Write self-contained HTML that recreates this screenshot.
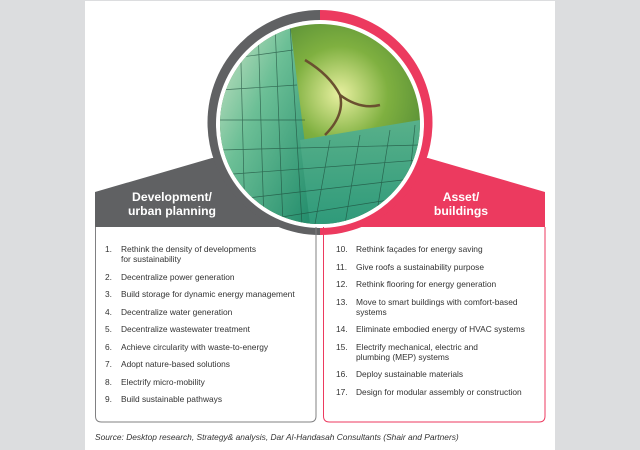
<!DOCTYPE html>
<html><head><style>
body{margin:0;width:640px;height:450px;background:#dcdddf;overflow:hidden;font-family:"Liberation Sans",sans-serif}
</style></head><body>
<svg width="640" height="450" viewBox="0 0 640 450" xmlns="http://www.w3.org/2000/svg" style="position:absolute;left:0;top:0">
<defs>
<clipPath id="cl"><circle cx="320" cy="124" r="100"/></clipPath>
<clipPath id="lh"><rect x="0" y="0" width="320" height="450"/></clipPath>
<clipPath id="rh"><rect x="320" y="0" width="320" height="450"/></clipPath>
<linearGradient id="g1" x1="0" y1="0" x2="1" y2="1">
<stop offset="0" stop-color="#cfe6c8"/><stop offset="0.4" stop-color="#6cbf96"/><stop offset="1" stop-color="#1f8a6a"/></linearGradient>
<radialGradient id="g2" cx="0.6" cy="0.35" r="0.6">
<stop offset="0" stop-color="#e8f0a0"/><stop offset="0.4" stop-color="#7fb040"/><stop offset="1" stop-color="#3f7a30"/></radialGradient>
<linearGradient id="g3" x1="0" y1="0" x2="0" y2="1">
<stop offset="0" stop-color="#58b08a"/><stop offset="1" stop-color="#2f9a7a"/></linearGradient>
</defs>
<rect x="85" y="1" width="470" height="449" fill="#fff"/>
<polygon points="95,192 212,158 320,158 320,227 95,227" fill="#606163"/>
<polygon points="545,192 428,158 320,158 320,227 545,227" fill="#ec3a5f"/>
<circle cx="320" cy="122.5" r="112.5" fill="#606163" clip-path="url(#lh)"/>
<circle cx="320" cy="122.5" r="112.5" fill="#ec3a5f" clip-path="url(#rh)"/>
<circle cx="320" cy="124" r="104" fill="#fff"/>
<g clip-path="url(#cl)">
<rect x="220" y="24" width="200" height="200" fill="url(#g2)"/>
<polygon points="220,24 290,24 315,224 220,224" fill="url(#g1)"/>
<polygon points="300,140 420,120 420,224 310,224" fill="url(#g3)"/>
<g stroke="#1d4a3a" stroke-width="0.7" opacity="0.7">
<line x1="240" y1="24" x2="245" y2="224"/><line x1="258" y1="24" x2="264" y2="224"/><line x1="275" y1="24" x2="283" y2="224"/><line x1="290" y1="24" x2="302" y2="224"/>
<line x1="220" y1="60" x2="293" y2="50"/><line x1="220" y1="90" x2="297" y2="85"/><line x1="220" y1="120" x2="305" y2="120"/><line x1="220" y1="150" x2="420" y2="145"/><line x1="220" y1="175" x2="420" y2="160"/><line x1="230" y1="200" x2="420" y2="178"/><line x1="250" y1="222" x2="420" y2="195"/>
<line x1="330" y1="140" x2="315" y2="224"/><line x1="360" y1="135" x2="345" y2="224"/><line x1="390" y1="130" x2="375" y2="224"/><line x1="415" y1="125" x2="405" y2="224"/>
</g>
<path d="M305,60 Q330,75 340,95 Q345,115 325,135 M340,95 Q360,110 380,105" stroke="#6a5030" stroke-width="2.5" fill="none"/>
</g>
<g font-weight="bold" font-size="12.2" fill="#fff" text-anchor="middle">
<text x="172" y="201">Development/</text><text x="172" y="215">urban planning</text>
<text x="461" y="201">Asset/</text><text x="461" y="215">buildings</text>
</g>
<path d="M95.5,227 V416 Q95.5,422 101.5,422 H310 Q316,422 316,416 V227" fill="none" stroke="#808082" stroke-width="1"/>
<path d="M323.5,227 V416 Q323.5,422 329.5,422 H539 Q545,422 545,416 V227" fill="none" stroke="#ec3a5f" stroke-width="1"/>
<g font-size="8.4" fill="#333">
<text x="105" y="252">1.</text><text x="121" y="252">Rethink the density of developments</text><text x="121" y="262">for sustainability</text>
<text x="105" y="280">2.</text><text x="121" y="280">Decentralize power generation</text>
<text x="105" y="297">3.</text><text x="121" y="297">Build storage for dynamic energy management</text>
<text x="105" y="315">4.</text><text x="121" y="315">Decentralize water generation</text>
<text x="105" y="332">5.</text><text x="121" y="332">Decentralize wastewater treatment</text>
<text x="105" y="350">6.</text><text x="121" y="350">Achieve circularity with waste-to-energy</text>
<text x="105" y="367">7.</text><text x="121" y="367">Adopt nature-based solutions</text>
<text x="105" y="385">8.</text><text x="121" y="385">Electrify micro-mobility</text>
<text x="105" y="402">9.</text><text x="121" y="402">Build sustainable pathways</text>
<text x="336" y="252">10.</text><text x="356" y="252">Rethink façades for energy saving</text>
<text x="336" y="270">11.</text><text x="356" y="270">Give roofs a sustainability purpose</text>
<text x="336" y="287">12.</text><text x="356" y="287">Rethink flooring for energy generation</text>
<text x="336" y="305">13.</text><text x="356" y="305">Move to smart buildings with comfort-based</text><text x="356" y="315">systems</text>
<text x="336" y="332">14.</text><text x="356" y="332">Eliminate embodied energy of HVAC systems</text>
<text x="336" y="350">15.</text><text x="356" y="350">Electrify mechanical, electric and</text><text x="356" y="360">plumbing (MEP) systems</text>
<text x="336" y="377">16.</text><text x="356" y="377">Deploy sustainable materials</text>
<text x="336" y="395">17.</text><text x="356" y="395">Design for modular assembly or construction</text>
</g>
<text x="95" y="440" font-size="8.4" font-style="italic" fill="#333">Source: Desktop research, Strategy&amp; analysis, Dar Al-Handasah Consultants (Shair and Partners)</text>
</svg>
</body></html>
